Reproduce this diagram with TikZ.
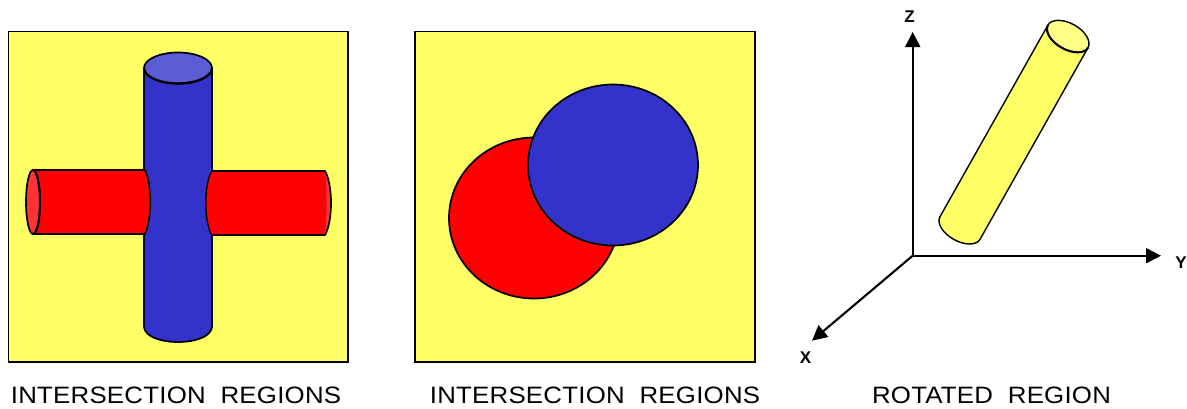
\documentclass[tikz,border=0pt]{standalone}
\usepackage{fontspec}
\setmainfont{Liberation Sans}
\newfontfamily\capfont[FakeStretch=1.09,LetterSpace=1]{Liberation Sans}
\definecolor{bgyellow}{HTML}{FFFF66}
\definecolor{cylblue}{HTML}{3333CC}
\definecolor{capblue}{HTML}{5C5CD6}
\definecolor{cylred}{HTML}{FF0000}
\definecolor{capred}{HTML}{FF3333}
\definecolor{capyellow}{HTML}{FFFF85}
\usetikzlibrary{arrows.meta}
\tikzset{
  panel/.style={draw=black,fill=bgyellow,line width=1.6pt},
  solid3d/.style={draw=black,line width=1.7pt,line join=round},
  thinsolid/.style={draw=black,line width=1.4pt,line join=round},
  axisline/.style={draw=black,line width=2.1pt,-{Triangle[length=15pt,width=15pt]}},
  axislabel/.style={font=\bfseries\fontsize{17}{18}\selectfont,inner sep=0pt},
  caption/.style={font=\capfont\fontsize{23.7}{26}\selectfont,inner sep=0pt}
}
\begin{document}
\begin{tikzpicture}[x=1pt,y=-1pt]
\useasboundingbox (0,0) rectangle (1187,408);
% panel 1
\path[panel] (8.5,31.5) rectangle (348,362);
% blue cylinder
\path[solid3d,fill=cylblue] (144,68) -- (144,327) .. controls (146,347) and (210,347) .. (212,327) -- (212,68) -- cycle;
% left red tube
\path[solid3d,fill=cylred] (33,170) -- (145,170) .. controls (152,185) and (152,219) .. (145,234) -- (33,234) -- cycle;
\path[solid3d,fill=capred] (33,202) ellipse [x radius=7pt,y radius=32pt];
\draw[black,line width=2pt] (33,170) arc [start angle=90,end angle=-90,x radius=7pt,y radius=32pt];
% right red tube
\path[solid3d,fill=capred] (212,171) -- (325,171) .. controls (333,185) and (333,221) .. (325,235) -- (212,235) .. controls (204,221) and (204,185) .. (212,171) -- cycle;
\path[fill=cylred] (212,172) -- (325,172) .. controls (327,185) and (327,221) .. (325,234) -- (212,234) .. controls (204.8,221) and (204.8,185) .. (212,172) -- cycle;
% blue cap
\path[solid3d,fill=capblue] (178,68) ellipse [x radius=34pt,y radius=15.5pt];
\draw[black,line width=2.3pt] (144,68) arc [start angle=180,end angle=360,x radius=34pt,y radius=15.5pt];
% panel 2
\path[panel] (415,31.5) rectangle (755,362);
\path[solid3d,fill=cylred] (534,218) ellipse [x radius=85pt,y radius=80.5pt];
\path[solid3d,fill=cylblue] (613,165) ellipse [x radius=85pt,y radius=80.5pt];
% panel 3 rotated cylinder
\begin{scope}[shift={(960,228)},rotate=-29.4]
\path[thinsolid,fill=bgyellow] (-23pt,0pt) arc [start angle=180,end angle=360,x radius=23pt,y radius=13pt] -- (23pt,220pt) -- (-23pt,220pt) -- cycle;
\path[thinsolid,fill=capyellow] (0pt,220pt) ellipse [x radius=23pt,y radius=13pt];
\draw[black,line width=2pt] (-23pt,220pt) arc [start angle=180,end angle=360,x radius=23pt,y radius=13pt];
\end{scope}
% axes
\coordinate (origin) at (912.7,255.7);
\coordinate (ztip) at (912.7,32);
\coordinate (ytip) at (1161,255.7);
\coordinate (xtip) at (812,340.7);
\draw[axisline] (origin) -- (ztip);
\draw[axisline] (origin) -- (ytip);
\draw[axisline] (origin) -- (xtip);
\node[axislabel] (zlabel) at (909.5,16.5) {Z};
\node[axislabel] (ylabel) at (1181,263) {Y};
\node[axislabel] (xlabel) at (805.5,357.5) {X};
% captions
\node[caption] (cap1) at (176,395) {INTERSECTION\ \ REGIONS};
\node[caption] (cap2) at (595,395) {INTERSECTION\ \ REGIONS};
\node[caption] (cap3) at (991.5,395) {ROTATED\ \ REGION};
\end{tikzpicture}
\end{document}
